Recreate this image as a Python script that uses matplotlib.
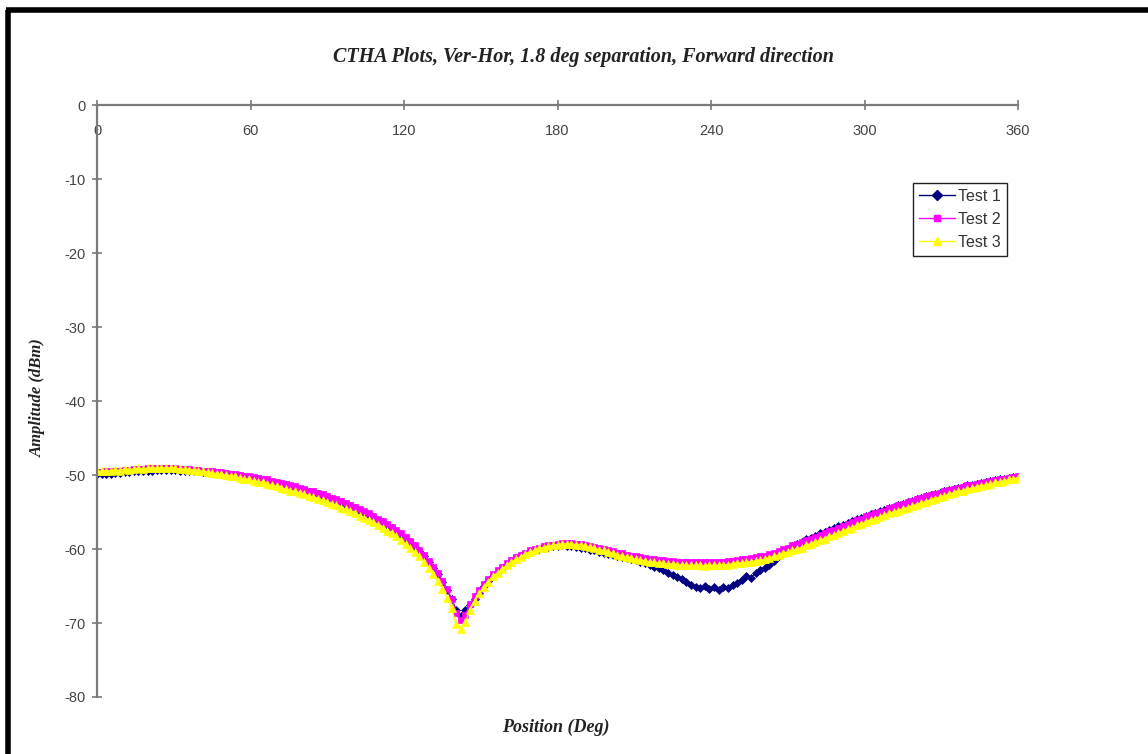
import numpy as np
import matplotlib
matplotlib.use("Agg")
import matplotlib.pyplot as plt
from matplotlib.lines import Line2D

plt.rcParams["axes.unicode_minus"] = False

# Measured amplitude (dBm) every 1.8 deg, 0..360 deg
test1 = [
    -49.9, -49.9, -49.8, -49.8, -49.7, -49.7, -49.6, -49.6, -49.5, -49.5,
    -49.4, -49.4, -49.4, -49.3, -49.3, -49.3, -49.3, -49.3, -49.4, -49.4,
    -49.4, -49.5, -49.5, -49.6, -49.6, -49.7, -49.8, -49.8, -49.9, -50.0,
    -50.1, -50.2, -50.3, -50.4, -50.5, -50.6, -50.7, -50.8, -51.0, -51.1,
    -51.3, -51.4, -51.6, -51.7, -51.9, -52.1, -52.3, -52.4, -52.6, -52.8,
    -53.1, -53.3, -53.5, -53.7, -54.0, -54.2, -54.5, -54.8, -55.1, -55.4,
    -55.7, -56.1, -56.4, -56.8, -57.2, -57.6, -58.1, -58.6, -59.1, -59.7,
    -60.3, -61.0, -61.7, -62.5, -63.4, -64.4, -65.5, -66.8, -68.2, -69.0,
    -68.3, -67.6, -66.8, -65.9, -65.0, -64.3, -63.7, -63.1, -62.6, -62.1,
    -61.7, -61.3, -61.0, -60.7, -60.4, -60.2, -60.0, -59.8, -59.7, -59.6,
    -59.6, -59.5, -59.6, -59.6, -59.7, -59.8, -59.9, -60.1, -60.2, -60.4,
    -60.5, -60.7, -60.8, -61.0, -61.1, -61.2, -61.3, -61.5, -61.7, -61.9,
    -62.1, -62.4, -62.6, -62.9, -63.2, -63.5, -63.8, -64.1, -64.5, -64.8,
    -65.1, -65.3, -65.0, -65.4, -65.2, -65.5, -65.1, -65.3, -64.9, -64.6,
    -64.2, -63.6, -63.9, -63.3, -62.8, -62.5, -62.1, -61.6, -61.0, -60.5,
    -60.0, -59.6, -59.3, -59.0, -58.7, -58.5, -58.2, -57.9, -57.7, -57.4,
    -57.2, -56.9, -56.7, -56.5, -56.2, -56.0, -55.8, -55.5, -55.3, -55.1,
    -54.9, -54.7, -54.5, -54.3, -54.1, -53.9, -53.7, -53.5, -53.3, -53.1,
    -52.9, -52.7, -52.6, -52.4, -52.2, -52.0, -51.9, -51.7, -51.6, -51.4,
    -51.3, -51.2, -51.1, -50.9, -50.8, -50.7, -50.6, -50.5, -50.4, -50.3,
    -50.3,
]

test2 = [
    -49.6, -49.6, -49.5, -49.5, -49.4, -49.4, -49.3, -49.3, -49.2, -49.2,
    -49.2, -49.1, -49.1, -49.1, -49.1, -49.1, -49.1, -49.1, -49.2, -49.2,
    -49.2, -49.3, -49.3, -49.4, -49.4, -49.5, -49.6, -49.6, -49.7, -49.8,
    -49.9, -50.0, -50.1, -50.2, -50.3, -50.4, -50.5, -50.6, -50.8, -50.9,
    -51.1, -51.2, -51.4, -51.5, -51.7, -51.9, -52.1, -52.2, -52.4, -52.6,
    -52.9, -53.1, -53.3, -53.5, -53.8, -54.0, -54.3, -54.6, -54.9, -55.2,
    -55.5, -55.9, -56.2, -56.6, -57.0, -57.4, -57.9, -58.4, -58.9, -59.5,
    -60.1, -60.8, -61.6, -62.4, -63.3, -64.3, -65.4, -66.7, -68.6, -69.6,
    -68.9, -67.4, -66.4, -65.5, -64.7, -64.0, -63.4, -62.9, -62.4, -61.9,
    -61.5, -61.1, -60.8, -60.5, -60.2, -60.0, -59.8, -59.6, -59.5, -59.4,
    -59.3, -59.2, -59.2, -59.2, -59.3, -59.3, -59.4, -59.6, -59.7, -59.9,
    -60.0, -60.2, -60.3, -60.5, -60.6, -60.8, -60.9, -61.0, -61.1, -61.2,
    -61.3, -61.4, -61.5, -61.5, -61.6, -61.6, -61.7, -61.7, -61.7, -61.8,
    -61.8, -61.7, -61.8, -61.8, -61.7, -61.8, -61.7, -61.6, -61.6, -61.5,
    -61.4, -61.3, -61.2, -61.1, -61.0, -60.9, -60.7, -60.5, -60.3, -60.0,
    -59.8, -59.5, -59.3, -59.0, -58.8, -58.6, -58.4, -58.1, -57.9, -57.6,
    -57.4, -57.1, -56.9, -56.6, -56.4, -56.1, -55.9, -55.6, -55.4, -55.2,
    -55.0, -54.8, -54.5, -54.3, -54.1, -53.9, -53.7, -53.5, -53.3, -53.1,
    -52.9, -52.7, -52.6, -52.4, -52.2, -52.0, -51.9, -51.7, -51.6, -51.4,
    -51.3, -51.2, -51.1, -50.9, -50.8, -50.7, -50.6, -50.5, -50.4, -50.3,
    -50.2,
]

test3 = [
    -49.5, -49.5, -49.4, -49.5, -49.3, -49.4, -49.2, -49.3, -49.2, -49.1,
    -49.2, -49.1, -49.0, -49.1, -49.1, -49.0, -49.1, -49.1, -49.2, -49.2,
    -49.3, -49.3, -49.4, -49.5, -49.6, -49.7, -49.8, -49.9, -50.0, -50.1,
    -50.2, -50.4, -50.5, -50.6, -50.8, -50.9, -51.0, -51.2, -51.4, -51.5,
    -51.7, -51.9, -52.1, -52.2, -52.4, -52.6, -52.8, -53.0, -53.2, -53.4,
    -53.7, -53.9, -54.1, -54.4, -54.6, -54.9, -55.2, -55.5, -55.8, -56.1,
    -56.4, -56.8, -57.1, -57.5, -57.9, -58.3, -58.8, -59.3, -59.8, -60.4,
    -61.0, -61.7, -62.5, -63.4, -64.3, -65.4, -66.6, -68.0, -70.2, -70.8,
    -69.9, -68.2, -67.0, -66.0, -65.1, -64.4, -63.7, -63.2, -62.7, -62.2,
    -61.8, -61.4, -61.1, -60.7, -60.4, -60.2, -59.9, -59.8, -59.6, -59.5,
    -59.4, -59.3, -59.3, -59.3, -59.4, -59.4, -59.6, -59.7, -59.9, -60.1,
    -60.2, -60.4, -60.6, -60.8, -60.9, -61.1, -61.2, -61.4, -61.5, -61.6,
    -61.7, -61.8, -61.9, -61.9, -62.0, -62.0, -62.1, -62.1, -62.2, -62.2,
    -62.2, -62.2, -62.3, -62.2, -62.2, -62.2, -62.1, -62.1, -62.0, -61.9,
    -61.9, -61.8, -61.7, -61.6, -61.5, -61.4, -61.2, -61.0, -60.8, -60.6,
    -60.4, -60.2, -60.0, -59.8, -59.5, -59.3, -59.1, -58.8, -58.6, -58.3,
    -58.1, -57.8, -57.6, -57.3, -57.1, -56.8, -56.6, -56.3, -56.1, -55.9,
    -55.7, -55.4, -55.2, -55.0, -54.8, -54.6, -54.4, -54.2, -54.0, -53.8,
    -53.6, -53.4, -53.2, -53.0, -52.8, -52.6, -52.4, -52.2, -52.1, -51.9,
    -51.8, -51.6, -51.5, -51.3, -51.2, -51.0, -50.9, -50.8, -50.6, -50.5,
    -50.4,
]

series_names = ["Test 1", "Test 2", "Test 3"]
x_ticks = [0, 60, 120, 180, 240, 300, 360]
y_ticks = [0, -10, -20, -30, -40, -50, -60, -70, -80]

title = "CTHA Plots, Ver-Hor, 1.8 deg separation, Forward direction"
x_label = "Position (Deg)"
y_label = "Amplitude (dBm)"

serif = ["Liberation Serif", "DejaVu Serif"]
sans = ["Liberation Sans", "DejaVu Sans"]

fig = plt.figure(figsize=(11.48, 7.54), dpi=100, facecolor="white")
ax = fig.add_axes([0.0845, 0.0756, 0.8023, 0.7851])
ax.set_facecolor("white")

styles = [
    dict(color="#000080", marker="D", markersize=4.0),
    dict(color="#FF00FF", marker="s", markersize=4.2),
    dict(color="#FFFF00", marker="^", markersize=5.2),
]

for name, values, st in zip(series_names, [test1, test2, test3], styles):
    pos = np.linspace(0, 360, len(values))
    ax.plot(pos, values, linestyle="-", linewidth=1.0, color=st["color"],
            marker=st["marker"], markersize=st["markersize"],
            markerfacecolor=st["color"], markeredgecolor=st["color"],
            markeredgewidth=0.5, label=name)

ax.set_xlim(0, 360)
ax.set_ylim(-80, 0)
ax.set_xticks(x_ticks)
ax.set_yticks(y_ticks)

axis_color = "#7a7a7a"
for side in ["top", "right"]:
    ax.spines[side].set_visible(False)
ax.spines["bottom"].set_position(("data", 0))
for side in ["bottom", "left"]:
    ax.spines[side].set_color(axis_color)
    ax.spines[side].set_linewidth(1.6)

ax.tick_params(axis="both", direction="inout", length=7, width=1.2,
               color=axis_color, labelcolor="#444444", labelsize=10.5)
ax.tick_params(axis="x", pad=10)
ax.tick_params(axis="y", pad=5)
for lbl in ax.get_xticklabels() + ax.get_yticklabels():
    lbl.set_family(sans)

fig.text(0.5085, 0.924, title, ha="center", va="center", fontsize=14.5,
         fontweight="bold", fontstyle="italic", family=serif, color="#222222")
fig.text(0.4845, 0.036, x_label, ha="center", va="center", fontsize=13,
         fontweight="bold", fontstyle="italic", family=serif, color="#222222")
fig.text(0.033, 0.472, y_label, ha="center", va="center", rotation=90,
         fontsize=12, fontweight="bold", fontstyle="italic", family=serif,
         color="#222222")

handles = [Line2D([0], [0], color=st["color"], linewidth=1.0,
                  marker=st["marker"], markersize=st["markersize"] + 0.6,
                  markerfacecolor=st["color"], markeredgecolor=st["color"])
           for st in styles]
leg = ax.legend(handles, series_names, loc="upper left",
                bbox_to_anchor=(0.886, 0.869), frameon=True, fancybox=False,
                edgecolor="#222222", framealpha=1.0, handlelength=2.2,
                handletextpad=0.2, borderpad=0.4, labelspacing=0.5,
                borderaxespad=0.0, prop={"family": sans, "size": 11.5})
leg.get_frame().set_linewidth(1.0)
for txt in leg.get_texts():
    txt.set_color("#333333")

# Outer black frame of the chart sheet
frame_kw = dict(color="black", linewidth=4.0, solid_capstyle="butt",
                transform=fig.transFigure, clip_on=False)
fig.add_artist(Line2D([8 / 1148, 8 / 1148], [0, 1 - 10 / 754], **frame_kw))
fig.add_artist(Line2D([6 / 1148, 1], [1 - 10 / 754, 1 - 10 / 754], **frame_kw))

fig.savefig("out.png", dpi=100, facecolor="white")
